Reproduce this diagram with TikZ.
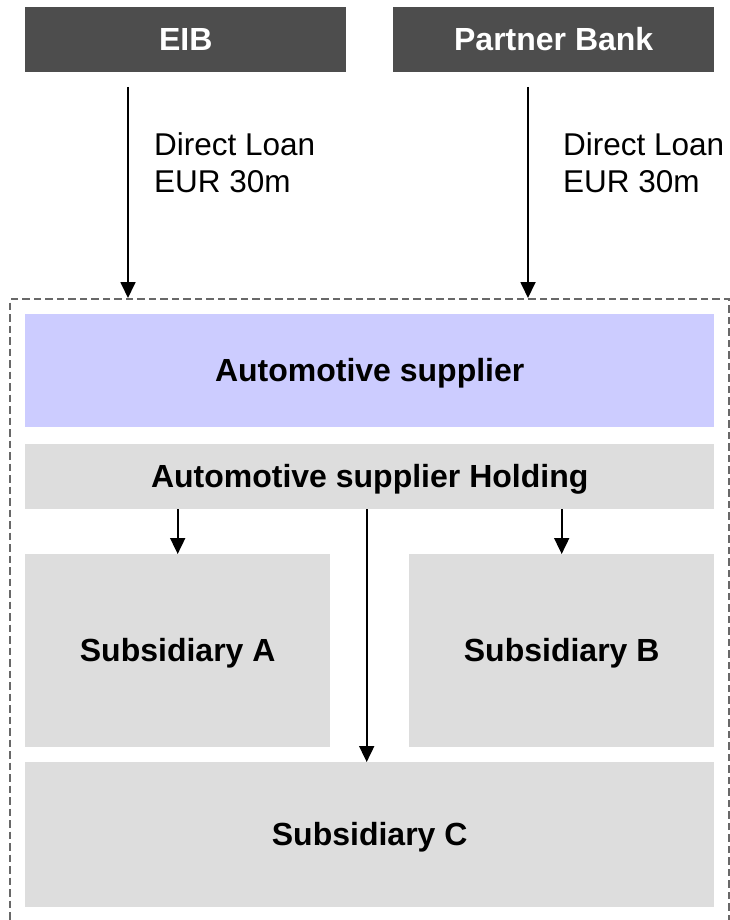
\documentclass[tikz,border=0pt]{standalone}
\usepackage{fontspec}
\setmainfont{Liberation Sans}
\usetikzlibrary{arrows.meta,positioning,calc}
\definecolor{bankgrey}{HTML}{4D4D4D}
\definecolor{supplierblue}{HTML}{CCCCFF}
\definecolor{unitgrey}{HTML}{DDDDDD}
\definecolor{framegrey}{HTML}{686868}

\begin{document}
\begin{tikzpicture}[x=1pt,y=-1pt,
  bank/.style={fill=bankgrey,text=white,inner sep=0pt,minimum width=321pt,minimum height=65pt,
    text height=22pt,text depth=0pt,font=\fontsize{32}{37}\selectfont\bfseries},
  unit/.style={fill=unitgrey,inner sep=0pt,text height=22pt,text depth=0pt,
    font=\fontsize{32}{37}\selectfont\bfseries},
  loan/.style={inner sep=0pt,anchor=north west,align=left,font=\fontsize{31.5}{37}\selectfont},
  arr/.style={-{Triangle[length=16pt,width=15pt]},line width=1.8pt,black},
  grp/.style={draw=framegrey,line width=2pt,dash pattern=on 7.5pt off 4pt},
]
\useasboundingbox (0,0) rectangle (729,920);

% ---- Lenders ----
\node[bank,anchor=north west] (eib) at (25,7) {EIB};
\node[bank,anchor=north west] (pbank) at (393,7) {Partner Bank};
\node[loan] (eibloan) at (154,132) {Direct Loan\\EUR 30m};
\node[loan] (pbankloan) at (563,132) {Direct Loan\\EUR 30m};

% ---- Borrower group ----
\node[grp,inner sep=0pt,minimum width=719pt,minimum height=640pt,anchor=north west] (group) at (9,298) {};
\node[unit,fill=supplierblue,minimum width=689pt,minimum height=113pt,anchor=north west] (supplier) at (25,314) {Automotive supplier};
\node[unit,minimum width=689pt,minimum height=65pt,anchor=north west] (holding) at (25,444) {Automotive supplier Holding};
\node[unit,minimum width=305pt,minimum height=193pt,anchor=north west] (subA) at (25,554) {Subsidiary A};
\node[unit,minimum width=305pt,minimum height=193pt,anchor=north west] (subB) at (409,554) {Subsidiary B};
\node[unit,minimum width=689pt,minimum height=145pt,anchor=north west] (subC) at (25,762) {Subsidiary C};

% ---- Loans ----
\coordinate (eibout) at (128,87);
\coordinate (pbankout) at (528,87);
\draw[arr] (eibout) -- (eibout |- group.north);
\draw[arr] (pbankout) -- (pbankout |- group.north);

% ---- Holding to subsidiaries ----
\draw[arr] (holding.south -| subA.north) -- (subA.north);
\draw[arr] (holding.south -| subB.north) -- (subB.north);
\draw[arr] ([xshift=-3pt]holding.south) -- ([xshift=-3pt]holding.south |- subC.north);
\end{tikzpicture}
\end{document}
